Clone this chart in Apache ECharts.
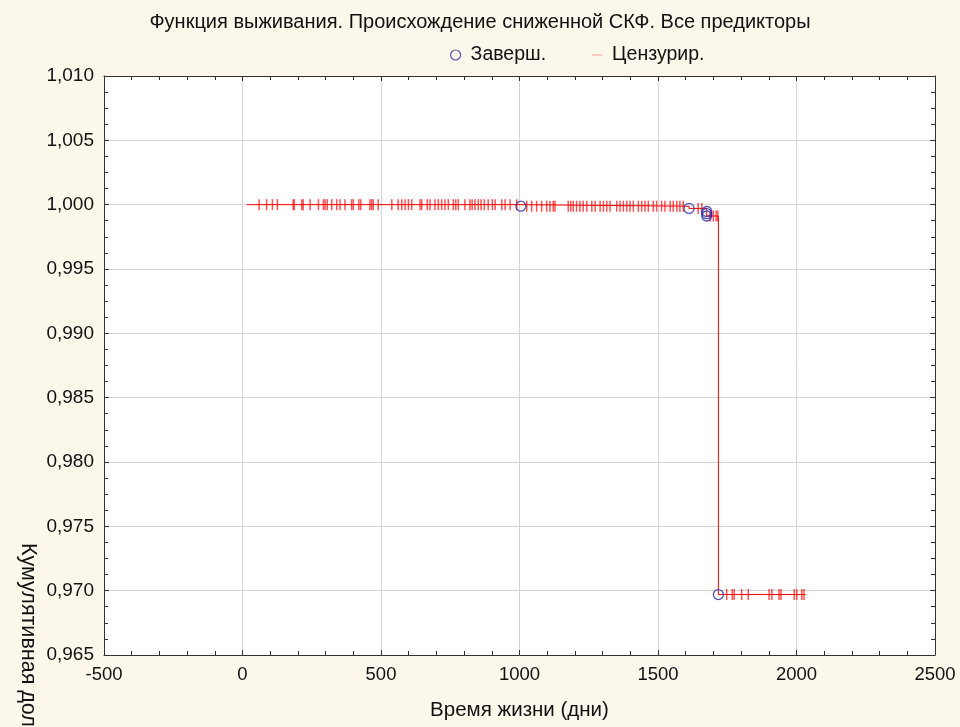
<!DOCTYPE html>
<html>
<head>
<meta charset="utf-8">
<script src="https://cdn.jsdelivr.net/npm/echarts@6/dist/echarts.min.js"></script>
<style>
html,body{margin:0;padding:0;background:#fbf7ea;}
#c{width:960px;height:727px;}
</style>
</head>
<body>
<div id="c"></div>
<script>
// ---- data ----
var titleText = 'Функция выживания. Происхождение сниженной СКФ. Все предикторы';
var xName = 'Время жизни (дни)';
var yName = 'Кумулятивная доля';
var legendNames = ['Заверш.', 'Цензурир.'];

var curveStart = 15;
var curveEnd = 2032;
var eventTimes = [1005, 1612, 1676, 1676, 1676, 1718];
var eventSurv  = [0.99988, 0.99971, 0.99947, 0.99930, 0.99912, 0.9697];

var censoredTimes = [
  60, 87, 108, 126, 183, 187, 214, 219, 244, 274, 292, 298, 306, 322, 340, 352,
  370, 394, 400, 420, 427, 460, 466, 472, 490, 539, 562, 575, 587, 599, 611, 641,
  647, 667, 677, 695, 707, 719, 731, 743, 761, 770, 779, 803, 821, 829, 839, 851,
  861, 873, 887, 902, 912, 936, 948, 966, 990,
  1026, 1044, 1062, 1080, 1098, 1110, 1122, 1128, 1176, 1185, 1194, 1206, 1218,
  1230, 1243, 1261, 1273, 1291, 1303, 1315, 1327, 1351, 1363, 1375, 1387, 1399,
  1411, 1429, 1441, 1453, 1465, 1483, 1495, 1513, 1525, 1544, 1555, 1568, 1579, 1591,
  1645, 1658,
  1688, 1700, 1710, 1716,
  1748, 1768, 1775, 1802, 1826, 1901, 1911, 1937, 1944, 1992, 2001, 2019, 2027
];

var xTicks = {min: -500, max: 2500, interval: 500};
var yTicks = {min: 0.965, max: 1.010, interval: 0.005};

// ---- build series data ----
function survAt(t) {
  var s = 1.0;
  for (var i = 0; i < eventTimes.length; i++) {
    if (eventTimes[i] <= t) s = eventSurv[i];
  }
  return s;
}
var curveData = [[curveStart, 1.0]];
for (var i = 0; i < eventTimes.length; i++) curveData.push([eventTimes[i], eventSurv[i]]);
curveData.push([curveEnd, eventSurv[eventSurv.length - 1]]);

var eventData = eventTimes.map(function (t, i) { return [t, eventSurv[i]]; });
var censData = censoredTimes.map(function (t) { return [t, survAt(t)]; });

var FONT = '"Liberation Sans", Arial, sans-serif';
var axisLineStyle = {color: '#333', width: 1};

function fmtY(v) { return v.toFixed(3).replace('.', ','); }
function fmtX(v) { return String(Math.round(v)); }

var chart = echarts.init(document.getElementById('c'));
chart.setOption({
  backgroundColor: '#fbf7ea',
  animation: false,
  title: {
    text: titleText,
    left: 'center',
    top: 7,
    textStyle: {fontFamily: FONT, fontSize: 20, fontWeight: 'normal', color: '#111'}
  },
  legend: {
    left: 445,
    top: 40,
    itemWidth: 20,
    itemHeight: 10,
    itemGap: 41,
    textStyle: {fontFamily: FONT, fontSize: 19.5, color: '#111'},
    data: [
      {name: legendNames[0], icon: 'circle', itemStyle: {color: 'rgba(0,0,0,0)', borderColor: '#2b2ba0', borderWidth: 1.2}},
      {name: legendNames[1], icon: 'path://M0,0M20,10M5,4.4H15V5.6H5Z', itemStyle: {color: '#f49a9a'}}
    ]
  },
  grid: {left: 104, right: 25, top: 76, bottom: 72, show: true, backgroundColor: '#fff', borderWidth: 0},
  xAxis: [{
    type: 'value', min: xTicks.min, max: xTicks.max, interval: xTicks.interval,
    name: xName, nameLocation: 'middle', nameGap: 45,
    nameTextStyle: {fontFamily: FONT, fontSize: 20.5, color: '#111'},
    axisLine: {show: true, onZero: false, lineStyle: axisLineStyle},
    axisTick: {show: true, inside: true, length: 5, lineStyle: axisLineStyle},
    minorTick: {show: true, splitNumber: 5, length: 4, lineStyle: axisLineStyle},
    axisLabel: {fontFamily: FONT, fontSize: 18.5, color: '#111', margin: 10, formatter: fmtX},
    splitLine: {show: true, lineStyle: {color: '#d4d4d4', width: 1}}
  }, {
    type: 'value', position: 'top', min: xTicks.min, max: xTicks.max, interval: xTicks.interval,
    axisLine: {show: true, onZero: false, lineStyle: axisLineStyle},
    axisTick: {show: true, inside: true, length: 5, lineStyle: axisLineStyle},
    minorTick: {show: true, splitNumber: 5, length: 4, lineStyle: axisLineStyle},
    axisLabel: {show: false}, splitLine: {show: false}
  }],
  yAxis: [{
    type: 'value', min: yTicks.min, max: yTicks.max, interval: yTicks.interval,
    axisLine: {show: true, onZero: false, lineStyle: axisLineStyle},
    axisTick: {show: true, inside: true, length: 5, lineStyle: axisLineStyle},
    minorTick: {show: true, splitNumber: 4, length: 4, lineStyle: axisLineStyle},
    axisLabel: {fontFamily: FONT, fontSize: 19, color: '#111', margin: 10, formatter: fmtY},
    splitLine: {show: true, lineStyle: {color: '#d4d4d4', width: 1}}
  }, {
    type: 'value', position: 'right', min: yTicks.min, max: yTicks.max, interval: yTicks.interval,
    axisLine: {show: true, onZero: false, lineStyle: axisLineStyle},
    axisTick: {show: true, inside: true, length: 5, lineStyle: axisLineStyle},
    minorTick: {show: true, splitNumber: 4, length: 4, lineStyle: axisLineStyle},
    axisLabel: {show: false}, splitLine: {show: false}
  }],
  graphic: [{
    type: 'text',
    x: 28, y: 543,
    rotation: -Math.PI / 2,
    style: {text: yName, fontFamily: FONT, fontSize: 21.5, fill: '#111', textAlign: 'left', textVerticalAlign: 'middle'}
  }],
  series: [{
    name: 'curve', type: 'line', step: 'end', data: curveData,
    showSymbol: false, symbol: 'none', silent: true,
    lineStyle: {color: '#ff0000', width: 1}, z: 2
  }, {
    name: legendNames[1], type: 'scatter', data: censData,
    symbol: 'rect', symbolSize: [1.5, 11],
    itemStyle: {color: 'rgba(255,0,0,0.85)'}, z: 3
  }, {
    name: legendNames[0], type: 'scatter', data: eventData,
    symbol: 'circle', symbolSize: 10,
    itemStyle: {color: 'rgba(0,0,0,0)', borderColor: '#2b2ba0', borderWidth: 1.3}, z: 4
  }]
});
</script>
</body>
</html>
